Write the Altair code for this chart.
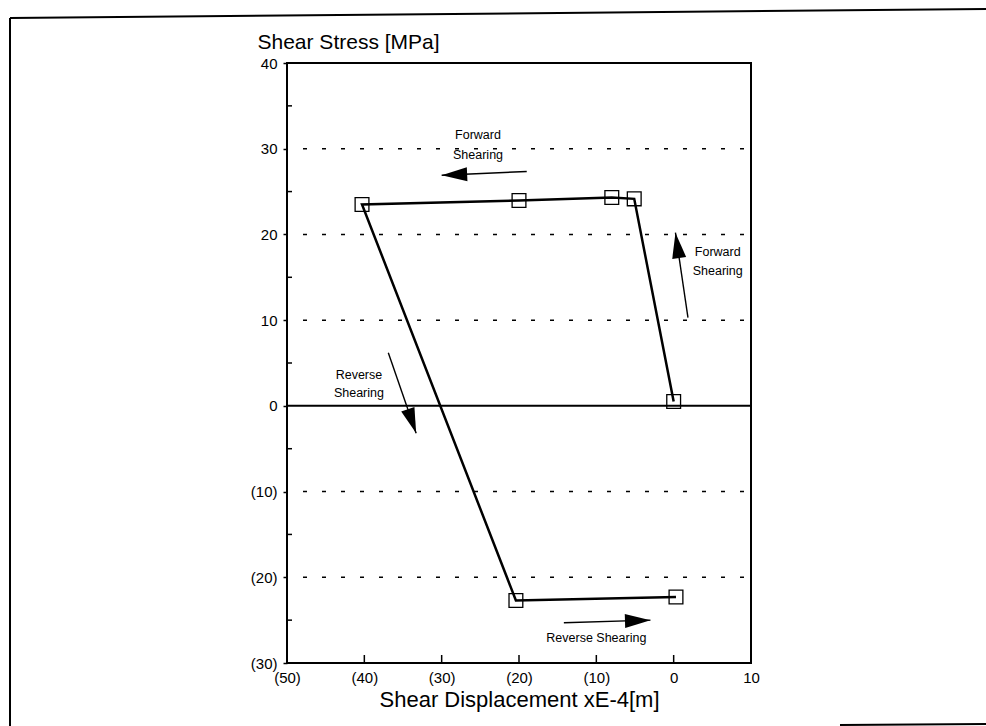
import altair as alt
import pandas as pd
import numpy as np

# ---- data ----
disp = [0.0, -5.1, -8.0, -20.0, -40.3, -20.4, 0.3]
stress = [0.5, 24.15, 24.3, 23.95, 23.5, -22.7, -22.3]
step = [0, 1, 2, 3, 4, 5, 6]

x_ticks = [-50, -40, -30, -20, -10, 0, 10]
y_ticks = [-30, -20, -10, 0, 10, 20, 30, 40]
grid_levels = [30, 20, 10, -10, -20]
y_minor = [35, 25, 15, 5, -5, -15, -25]
x_inner = [-40, -30, -20, -10, 0]

note_text = ["Forward", "Shearing", "Forward", "Shearing", "Reverse", "Shearing", "Reverse Shearing"]
note_x = [-25.3, -25.3, 5.7, 5.7, -40.7, -40.7, -10.0]
note_y = [31.6, 29.3, 17.9, 15.7, 3.6, 1.5, -27.1]

arrow_x1 = [-19.0, 1.85, -36.9, -14.2]
arrow_y1 = [27.35, 10.3, 6.2, -25.3]
arrow_x2 = [-30.0, 0.23, -33.3, -3.0]
arrow_y2 = [26.9, 20.2, -3.2, -25.0]

# ---- layout ----
W, H = 464, 600
PL, PT = 287, 63
XD, YD = [-50, 10], [-30, 40]
FONT = "Liberation Sans"

px_x = W / (XD[1] - XD[0])
px_y = H / (YD[1] - YD[0])

xs = alt.Scale(domain=XD, nice=False, zero=False)
ys = alt.Scale(domain=YD, nice=False, zero=False)

paren = "datum.value < 0 ? '(' + abs(datum.value) + ')' : '' + datum.value"

xaxis = alt.Axis(values=x_ticks, labelExpr=paren, ticks=False, grid=False, domain=False,
                 labelFont=FONT, labelFontSize=15, labelColor="black", labelPadding=7,
                 labelOverlap=False, labelFlush=False,
                 title="Shear Displacement xE-4[m]", titleFont=FONT, titleFontSize=22,
                 titleFontWeight="normal", titleColor="black", titlePadding=4)
yaxis = alt.Axis(values=y_ticks, labelExpr=paren, ticks=True, tickSize=4, tickWidth=1.5,
                 tickColor="black", grid=False, domain=False,
                 labelFont=FONT, labelFontSize=15, labelColor="black", labelPadding=6,
                 labelOverlap=False,
                 title="Shear Stress [MPa]", titleFont=FONT, titleFontSize=21,
                 titleFontWeight="normal", titleColor="black", titleAngle=0,
                 titleX=-30, titleY=-15, titleAlign="left", titleBaseline="alphabetic")

X = lambda f="x": alt.X(f + ":Q", scale=xs, axis=xaxis)
Y = lambda f="y": alt.Y(f + ":Q", scale=ys, axis=yaxis)

curve = pd.DataFrame({"x": disp, "y": stress, "step": step})
grid_df = pd.DataFrame({"y": grid_levels})
minor_df = pd.DataFrame({"y": y_minor})
xin_df = pd.DataFrame({"x": x_inner})
zero_df = pd.DataFrame({"y": [0]})
notes = pd.DataFrame({"x": note_x, "y": note_y, "t": note_text})

ax1, ay1, ax2, ay2 = map(np.array, (arrow_x1, arrow_y1, arrow_x2, arrow_y2))
dxp = (ax2 - ax1) * px_x
dyp = -(ay2 - ay1) * px_y
ang = (np.degrees(np.arctan2(dxp, -dyp)) + 360) % 360
arrows = pd.DataFrame({"x": ax1, "y": ay1, "x2": ax2, "y2": ay2, "angle": ang})

grid = alt.Chart(grid_df).mark_rule(color="black", strokeWidth=1.5, strokeDash=[4, 15],
                                    strokeDashOffset=3).encode(
    y=Y(), x=alt.value(0), x2=alt.value(W))
minor = alt.Chart(minor_df).mark_rule(color="black", strokeWidth=1.5).encode(
    y=Y(), x=alt.value(0), x2=alt.value(5))
xin = alt.Chart(xin_df).mark_rule(color="black", strokeWidth=1.5).encode(
    x=X(), y=alt.value(H), y2=alt.value(H - 8))
zero = alt.Chart(zero_df).mark_rule(color="black", strokeWidth=2).encode(
    y=Y(), x=alt.value(0), x2=alt.value(W))
line = alt.Chart(curve).mark_line(color="black", strokeWidth=2.5).encode(
    x=X(), y=Y(), order="step:Q")
squares = alt.Chart(curve).mark_point(shape="square", size=190, filled=False,
                                      color="black", strokeWidth=1.3, opacity=1).encode(
    x=X(), y=Y())
shafts = alt.Chart(arrows).mark_rule(color="black", strokeWidth=1.4).encode(
    x=X(), y=Y(), x2="x2:Q", y2="y2:Q")
heads = alt.Chart(arrows).mark_point(shape="M0,0 L0.55,2 L-0.55,2 Z", size=650,
                                     filled=True, color="black", opacity=1).encode(
    x=alt.X("x2:Q", scale=xs, axis=xaxis), y=alt.Y("y2:Q", scale=ys, axis=yaxis),
    angle=alt.Angle("angle:Q", scale=None))
texts = alt.Chart(notes).mark_text(font=FONT, fontSize=12.5, color="black",
                                   align="center", baseline="middle").encode(
    x=X(), y=Y(), text="t:N")

# outer scanned frame (decoration)
frame_l = alt.Chart(zero_df).mark_rule(color="black", strokeWidth=2).encode(
    x=alt.value(10 - PL), x2=alt.value(10 - PL), y=alt.value(18 - PT), y2=alt.value(726 - PT))
frame_t = alt.Chart(zero_df).mark_rule(color="black", strokeWidth=2).encode(
    x=alt.value(10 - PL), x2=alt.value(986 - PL), y=alt.value(18 - PT), y2=alt.value(9 - PT))
frame_b = alt.Chart(zero_df).mark_rule(color="black", strokeWidth=2).encode(
    x=alt.value(840 - PL), x2=alt.value(986 - PL), y=alt.value(725 - PT), y2=alt.value(724 - PT))

chart = alt.layer(
    grid, minor, xin, zero, line, squares, shafts, heads, texts, frame_l, frame_t, frame_b
).properties(
    width=W, height=H,
    padding={"left": PL, "top": PT, "right": 986 - PL - W, "bottom": 726 - PT - H},
    autosize=alt.AutoSizeParams(type="none"),
    background="white",
).configure_view(stroke="black", strokeWidth=2)

chart.save("out.html", embed_options={"renderer": "svg", "actions": False})
